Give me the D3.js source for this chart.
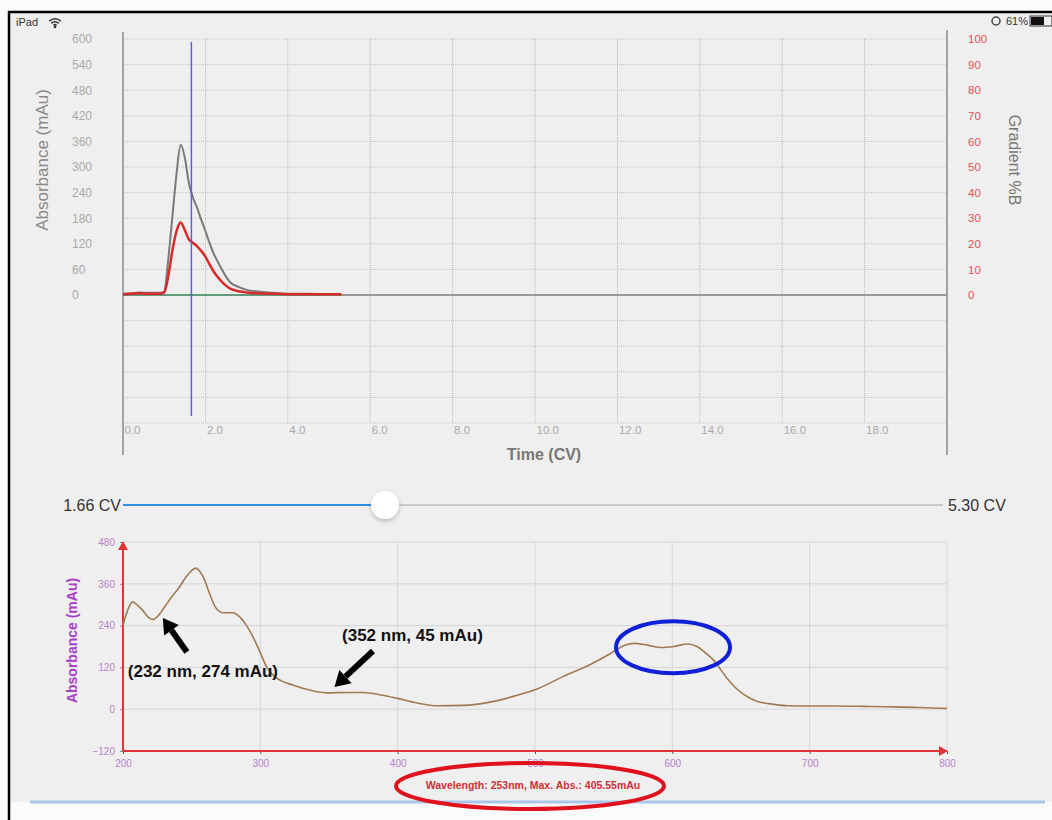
<!DOCTYPE html>
<html>
<head>
<meta charset="utf-8">
<script src="https://cdn.jsdelivr.net/npm/d3@7"></script>
<style>
  html, body { margin: 0; padding: 0; background: #fff; }
  text { font-family: "Liberation Sans", Arial, sans-serif; }
</style>
</head>
<body>
<div id="chart"></div>
<script>
// chromatogram (top) data
const timeCV = [0, 0.2, 0.4, 0.6, 0.8, 0.9, 1.0, 1.1, 1.2, 1.3, 1.4, 1.5, 1.6, 1.7, 1.8, 1.9, 2.0, 2.1, 2.2, 2.3, 2.4, 2.5, 2.6, 2.8, 3.0, 3.3, 3.6, 4.0, 4.5, 5.0, 5.3];
const absGray = [3, 4, 6, 5, 5, 5, 8, 85, 185, 285, 352, 322, 262, 228, 204, 176, 150, 122, 97, 78, 60, 43, 30, 19, 12, 8, 5, 3, 3, 2, 2];
const absRed  = [2, 3, 4, 3, 3, 3, 6, 45, 105, 150, 170, 152, 130, 122, 114, 103, 90, 72, 55, 42, 31, 22, 15, 9, 6, 4, 3, 2, 2, 2, 2];
const gradientB = [0, 0];
const gradientT = [0, 5.3];
const absTicks = [0, 60, 120, 180, 240, 300, 360, 420, 480, 540, 600];
const gradTicks = [0, 10, 20, 30, 40, 50, 60, 70, 80, 90, 100];
const timeTicks = [0, 2, 4, 6, 8, 10, 12, 14, 16, 18];
const cursorCV = 1.66;
const sliderMax = 5.30;

// spectrum (bottom) data
const wavelength = [200, 204, 207, 210, 214, 219, 222, 226, 230, 235, 241, 246, 250, 253, 256, 259, 263, 268, 273, 280, 285, 290, 295, 300, 305, 310, 315, 324, 336, 349, 363, 375, 388, 400, 414, 429, 448, 468, 487, 502, 521, 541, 555, 565, 572, 582, 592, 601, 611, 618, 624, 630, 640, 647, 655, 662, 670, 684, 700, 718, 740, 755, 780, 800];
const spectrumAbs = [241, 290, 308, 300, 285, 262, 258, 270, 292, 320, 350, 380, 398, 405, 395, 375, 332, 289, 277, 277, 265, 240, 205, 162, 118, 95, 82, 69, 55, 47, 48, 48, 41, 31, 18, 10, 11, 21, 40, 59, 95, 130, 160, 183, 189, 184, 177, 180, 187, 180, 162, 141, 88, 58, 35, 22, 16, 10, 9, 9, 8, 7, 5, 2];
const nmTicks = [200, 300, 400, 500, 600, 700, 800];
const specTicks = [-120, 0, 120, 240, 360, 480];
const annotations = [
  { label: "(232 nm, 274 mAu)", tx: 203.5, ty: 92, tail: [246.5, 164], tip: [229, 262] },
  { label: "(352 nm, 45 mAu)", tx: 359.5, ty: 195, tail: [382, 167], tip: [354, 64] }
];

const W = 1052, H = 820;
const svg = d3.select("#chart").append("svg")
  .attr("width", W)
  .attr("height", H);

// screen background + frame
svg.append("rect").attr("width", W).attr("height", H).attr("fill", "#fbfbfb");
svg.append("rect").attr("x", 9).attr("y", 12).attr("width", W - 9).attr("height", 790).attr("fill", "#efefef");
svg.append("line").attr("x1", 8).attr("x2", W).attr("y1", 12).attr("y2", 12).attr("stroke", "#000").attr("stroke-width", 2.5);
svg.append("line").attr("x1", 9).attr("x2", 9).attr("y1", 11).attr("y2", H).attr("stroke", "#000").attr("stroke-width", 2.5);
svg.append("line").attr("x1", 30).attr("x2", 1045).attr("y1", 802).attr("y2", 802).attr("stroke", "#a9c5ea").attr("stroke-width", 3);

// status bar
svg.append("text").attr("x", 16).attr("y", 26).attr("font-size", 11).attr("fill", "#333").text("iPad");
const wifi = svg.append("g").attr("transform", "translate(55,27)");
[9, 6, 3].forEach(r => {
  wifi.append("path")
    .attr("d", d3.arc()({ innerRadius: r - 1.6, outerRadius: r, startAngle: -Math.PI / 4, endAngle: Math.PI / 4 }))
    .attr("fill", "#333");
});
wifi.append("circle").attr("r", 1.3).attr("fill", "#333");
svg.append("circle").attr("cx", 996).attr("cy", 21).attr("r", 4).attr("fill", "none").attr("stroke", "#444").attr("stroke-width", 1.5);
svg.append("text").attr("x", 1006).attr("y", 25).attr("font-size", 11).attr("fill", "#333").text("61%");
svg.append("rect").attr("x", 1030).attr("y", 16).attr("width", 22).attr("height", 10).attr("fill", "none").attr("stroke", "#333");
svg.append("rect").attr("x", 1031).attr("y", 17).attr("width", 13).attr("height", 8).attr("fill", "#111");

// ---------- top chart ----------
const xT = d3.scaleLinear().domain([0, 20]).range([123, 947]);
const yT = d3.scaleLinear().domain([-300, 600]).range([423, 39]);
const yG = d3.scaleLinear().domain([0, 100]).range([yT(0), yT(600)]);

const topG = svg.append("g");

// dotted grid
topG.append("g")
  .selectAll("line")
  .data(d3.range(-300, 601, 60).filter(v => v !== 0))
  .join("line")
  .attr("x1", xT(0)).attr("x2", xT(20))
  .attr("y1", d => yT(d)).attr("y2", d => yT(d))
  .attr("stroke", "#c4c4c4").attr("stroke-width", 1).attr("stroke-dasharray", "1,1");
topG.append("g")
  .selectAll("line")
  .data(timeTicks.filter(d => d > 0))
  .join("line")
  .attr("x1", d => xT(d)).attr("x2", d => xT(d))
  .attr("y1", yT(600)).attr("y2", yT(-300))
  .attr("stroke", "#b8b8b8").attr("stroke-width", 1).attr("stroke-dasharray", "1,1");

// axes lines
topG.append("line").attr("x1", xT(0)).attr("x2", xT(0)).attr("y1", 32).attr("y2", 455).attr("stroke", "#8a8a8a").attr("stroke-width", 1.5);
topG.append("line").attr("x1", xT(20)).attr("x2", xT(20)).attr("y1", 30).attr("y2", 455).attr("stroke", "#8a8a8a").attr("stroke-width", 1.5);
topG.append("line").attr("x1", xT(0)).attr("x2", xT(20)).attr("y1", yT(0)).attr("y2", yT(0)).attr("stroke", "#9a9a9a").attr("stroke-width", 2);

// tick labels via axes (no domain / tick lines)
const leftAxis = topG.append("g").attr("transform", `translate(${xT(0)},0)`)
  .call(d3.axisLeft(yT).tickValues(absTicks).tickSize(0).tickPadding(0));
leftAxis.select(".domain").remove();
leftAxis.selectAll("text").attr("x", 72 - xT(0)).attr("text-anchor", "start")
  .attr("font-size", 12).attr("fill", "#aaa").attr("font-family", "Liberation Sans, Arial, sans-serif");

const rightAxis = topG.append("g").attr("transform", `translate(${xT(20)},0)`)
  .call(d3.axisRight(yG).tickValues(gradTicks).tickSize(0).tickPadding(21));
rightAxis.select(".domain").remove();
rightAxis.selectAll("text").attr("font-size", 11.5).attr("fill", "#e05252").attr("font-family", "Liberation Sans, Arial, sans-serif");

const bottomAxis = topG.append("g").attr("transform", `translate(0,${yT(-300)})`)
  .call(d3.axisBottom(xT).tickValues(timeTicks).tickFormat(d3.format(".1f")).tickSize(0).tickPadding(3));
bottomAxis.select(".domain").remove();
bottomAxis.selectAll("text").attr("text-anchor", "start").attr("dx", 1)
  .attr("font-size", 11.5).attr("fill", "#aaa").attr("font-family", "Liberation Sans, Arial, sans-serif");

// axis titles
topG.append("text").attr("transform", "translate(48,160) rotate(-90)")
  .attr("text-anchor", "middle").attr("font-size", 17).attr("fill", "#888").text("Absorbance (mAu)");
topG.append("text").attr("transform", "translate(1009,160) rotate(90)")
  .attr("text-anchor", "middle").attr("font-size", 16).attr("fill", "#777").text("Gradient %B");
topG.append("text").attr("x", 544).attr("y", 460)
  .attr("text-anchor", "middle").attr("font-size", 16).attr("font-weight", "bold").attr("fill", "#777").text("Time (CV)");

// gradient line
const gradLine = d3.line().x(d => xT(d[0])).y(d => yG(d[1]));
topG.append("path").datum(d3.zip(gradientT, gradientB)).attr("d", gradLine)
  .attr("fill", "none").attr("stroke", "#4f9a72").attr("stroke-width", 1.5);

// absorbance traces
const traceLine = d3.line().x(d => xT(d[0])).y(d => yT(d[1])).curve(d3.curveMonotoneX);
topG.append("path").datum(d3.zip(timeCV, absGray)).attr("d", traceLine)
  .attr("fill", "none").attr("stroke", "#7a7a7a").attr("stroke-width", 2);
topG.append("path").datum(d3.zip(timeCV, absRed)).attr("d", traceLine)
  .attr("fill", "none").attr("stroke", "#d82a2a").attr("stroke-width", 2.5);

// cursor
topG.append("line").attr("x1", xT(cursorCV)).attr("x2", xT(cursorCV)).attr("y1", 42).attr("y2", 416)
  .attr("stroke", "#5a62d2").attr("stroke-width", 1.5);

// ---------- slider ----------
const sY = 505;
const sx = d3.scaleLinear().domain([0, sliderMax]).range([137, 929]);
svg.append("line").attr("x1", 123).attr("x2", 943).attr("y1", sY).attr("y2", sY).attr("stroke", "#bdbdbd").attr("stroke-width", 1.5);
svg.append("line").attr("x1", 123).attr("x2", sx(cursorCV)).attr("y1", sY).attr("y2", sY).attr("stroke", "#2f8ee0").attr("stroke-width", 2);
const defs = svg.append("defs");
const f = defs.append("filter").attr("id", "shadow").attr("x", "-50%").attr("y", "-50%").attr("width", "200%").attr("height", "200%");
f.append("feDropShadow").attr("dx", 0).attr("dy", 2).attr("stdDeviation", 2).attr("flood-color", "#000").attr("flood-opacity", 0.25);
svg.append("circle").attr("cx", sx(cursorCV)).attr("cy", sY).attr("r", 14).attr("fill", "#fff").attr("filter", "url(#shadow)");
svg.append("text").attr("x", 121).attr("y", sY + 6).attr("text-anchor", "end").attr("font-size", 16).attr("fill", "#333")
  .text(d3.format(".2f")(cursorCV) + " CV");
svg.append("text").attr("x", 948).attr("y", sY + 6).attr("font-size", 16).attr("fill", "#333")
  .text(d3.format(".2f")(sliderMax) + " CV");

// ---------- bottom chart ----------
const xB = d3.scaleLinear().domain([200, 800]).range([123, 947]);
const yB = d3.scaleLinear().domain([-120, 480]).range([751, 542]);
const bot = svg.append("g");

bot.append("g").selectAll("line").data(nmTicks.slice(1)).join("line")
  .attr("x1", d => xB(d)).attr("x2", d => xB(d)).attr("y1", yB(480)).attr("y2", yB(-120))
  .attr("stroke", "#d6d6d6").attr("stroke-width", 1);
bot.append("g").selectAll("line").data(specTicks.slice(1)).join("line")
  .attr("x1", xB(200)).attr("x2", xB(800)).attr("y1", d => yB(d)).attr("y2", d => yB(d))
  .attr("stroke", "#d6d6d6").attr("stroke-width", 1);

const purple = "#b77fcc";
const bx = bot.append("g").attr("transform", `translate(0,${yB(-120)})`)
  .call(d3.axisBottom(xB).tickValues(nmTicks).tickSize(3).tickPadding(6));
bx.select(".domain").remove();
bx.selectAll("line").attr("stroke", "#555");
bx.selectAll("text").attr("font-size", 10).attr("fill", purple).attr("font-family", "Liberation Sans, Arial, sans-serif");

const by = bot.append("g").attr("transform", `translate(${xB(200)},0)`)
  .call(d3.axisLeft(yB).tickValues(specTicks).tickSize(3).tickPadding(5));
by.select(".domain").remove();
by.selectAll("line").attr("stroke", "#888");
by.selectAll("text").attr("font-size", 10).attr("fill", purple).attr("font-family", "Liberation Sans, Arial, sans-serif");

// red axis lines with arrow heads
const red = "#e0343a";
bot.append("line").attr("x1", xB(200)).attr("x2", xB(800) - 4).attr("y1", yB(-120)).attr("y2", yB(-120)).attr("stroke", red).attr("stroke-width", 2);
bot.append("line").attr("x1", xB(200)).attr("x2", xB(200)).attr("y1", yB(-120)).attr("y2", yB(480) + 4).attr("stroke", red).attr("stroke-width", 2);
bot.append("path").attr("d", `M${xB(800) + 1},${yB(-120)} l-9,-5 l0,10 z`).attr("fill", red);
bot.append("path").attr("d", `M${xB(200)},${yB(480) - 1} l-5,9 l10,0 z`).attr("fill", red);

bot.append("text").attr("transform", `translate(77,${(yB(480) + yB(-120)) / 2 - 6}) rotate(-90)`)
  .attr("text-anchor", "middle").attr("font-size", 14).attr("font-weight", "600").attr("fill", "#a83fc9").text("Absorbance (mAu)");

// spectrum
const specLine = d3.line().x(d => xB(d[0])).y(d => yB(d[1])).curve(d3.curveMonotoneX);
bot.append("path").datum(d3.zip(wavelength, spectrumAbs)).attr("d", specLine)
  .attr("fill", "none").attr("stroke", "#a07a52").attr("stroke-width", 1.6);

// annotations: arrows + labels
function arrow(g, x1, y1, x2, y2) {
  const a = Math.atan2(y2 - y1, x2 - x1);
  const head = 15, half = 9;
  const bxp = x2 - head * Math.cos(a), byp = y2 - head * Math.sin(a);
  g.append("line").attr("x1", x1).attr("y1", y1).attr("x2", bxp).attr("y2", byp)
    .attr("stroke", "#000").attr("stroke-width", 6);
  const p1 = [bxp + half * Math.sin(a), byp - half * Math.cos(a)];
  const p2 = [bxp - half * Math.sin(a), byp + half * Math.cos(a)];
  g.append("path").attr("d", `M${x2},${y2}L${p1[0]},${p1[1]}L${p2[0]},${p2[1]}Z`).attr("fill", "#000");
}
annotations.forEach(an => {
  arrow(bot, xB(an.tail[0]), yB(an.tail[1]), xB(an.tip[0]), yB(an.tip[1]));
  bot.append("text").attr("x", xB(an.tx)).attr("y", yB(an.ty))
    .attr("font-size", 17).attr("font-weight", "bold").attr("fill", "#111").text(an.label);
});

// highlighted plateau
bot.append("ellipse").attr("cx", xB(600.5)).attr("cy", yB(178)).attr("rx", 57).attr("ry", 26)
  .attr("fill", "none").attr("stroke", "#1020d8").attr("stroke-width", 4);

// max readout
const maxIdx = d3.maxIndex(spectrumAbs);
bot.append("text").attr("x", 533).attr("y", 789).attr("text-anchor", "middle")
  .attr("font-size", 10.5).attr("font-weight", "bold").attr("fill", "#cc2f35")
  .text(`Wavelength: ${wavelength[maxIdx]}nm, Max. Abs.: 405.55mAu`);
bot.append("ellipse").attr("cx", 530).attr("cy", 786).attr("rx", 134).attr("ry", 23)
  .attr("fill", "none").attr("stroke", "#e0101c").attr("stroke-width", 4);
</script>
</body>
</html>
